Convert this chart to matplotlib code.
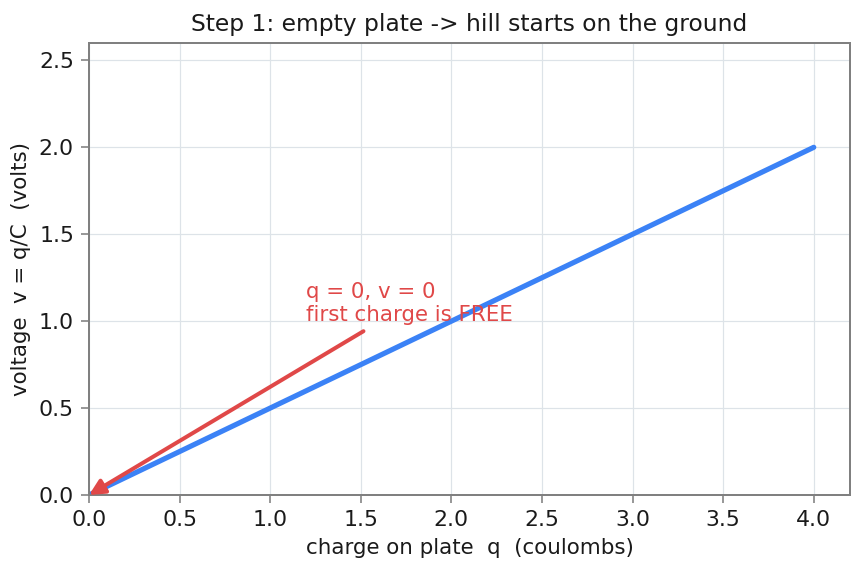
import matplotlib
matplotlib.use("Agg")
import matplotlib.pyplot as plt
import numpy as np

q_vals = [0.0, 4.0]
v_vals = [0.0, 2.0]
x_ticks = [0.0, 0.5, 1.0, 1.5, 2.0, 2.5, 3.0, 3.5, 4.0]
y_ticks = [0.0, 0.5, 1.0, 1.5, 2.0, 2.5]
origin = (0.0, 0.0)
label_pos = (1.2, 1.0)

blue = "#3b82f6"
red = "#e04848"

fig = plt.figure(figsize=(862/144, 571/144), dpi=144)
ax = fig.add_axes([89/862, 1-495/571, (850-89)/862, (495-43)/571])

ax.plot(q_vals, v_vals, color=blue, lw=2.6, solid_capstyle="round")
ax.annotate("q = 0, v = 0\nfirst charge is FREE", xy=origin, xytext=label_pos,
            color=red, fontsize=10.7, annotation_clip=False,
            arrowprops=dict(arrowstyle="-|>", color=red, lw=2, mutation_scale=16,
                            shrinkB=0, clip_on=False))

ax.set_xlim(0, 4.2)
ax.set_ylim(0, 2.6)
ax.set_xticks(x_ticks)
ax.set_yticks(y_ticks)
ax.grid(True, color="#dde3e8", lw=0.6)
ax.set_axisbelow(True)
for s in ax.spines.values():
    s.set_color("#808080")
    s.set_linewidth(1.0)
ax.tick_params(colors="#1a1a1a", labelsize=11, length=4, color="#808080")
ax.set_xlabel("charge on plate  q  (coulombs)", fontsize=10.7, color="#1a1a1a")
ax.set_ylabel("voltage  v = q/C  (volts)", fontsize=10.7, color="#1a1a1a")
ax.set_title("Step 1: empty plate -> hill starts on the ground", fontsize=11.7, color="#1a1a1a")

fig.savefig("out.png", dpi=144)
